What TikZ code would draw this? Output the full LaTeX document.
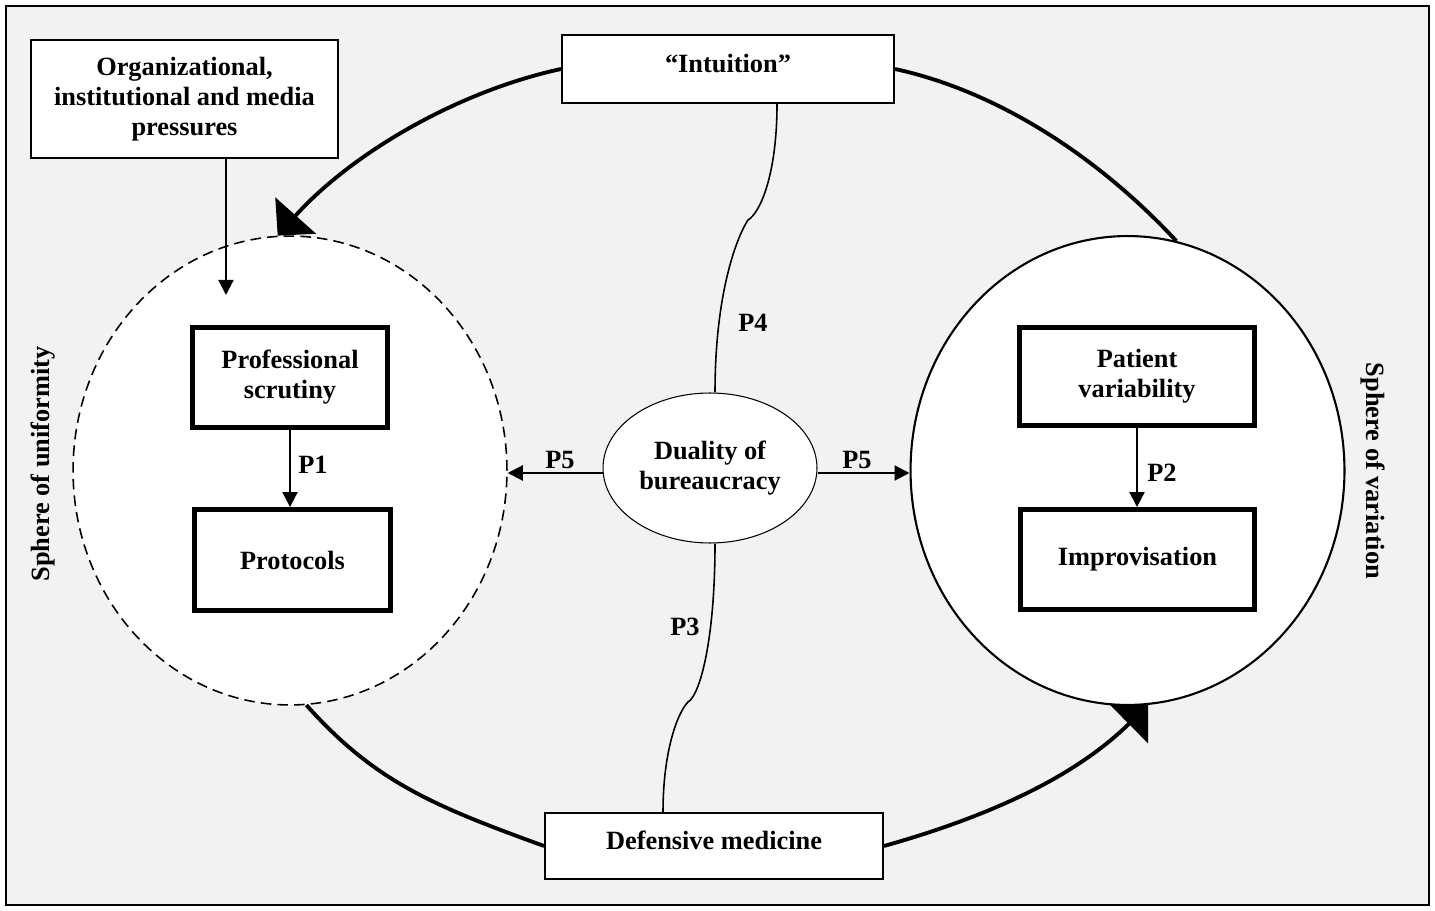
\documentclass[tikz,border=0pt]{standalone}
\usepackage{fontspec}
\setmainfont{Liberation Serif}
\usetikzlibrary{arrows.meta,positioning,shapes.geometric,calc}
\definecolor{paper}{RGB}{242,242,242}
\definecolor{ink}{RGB}{0,0,0}
\tikzset{
  >={Triangle[length=3mm,width=3mm]},
  txt/.style={font=\fontsize{15}{17}\selectfont\bfseries,align=center,text=ink},
  box/.style={txt,draw=ink,fill=white,line width=1.2pt,inner sep=0pt},
  heavy box/.style={box,line width=2.8pt},
  topbox/.style={text height=10.5pt,text depth=7pt},
  sphere/.style={ellipse,draw=ink,fill=white,inner sep=0pt,
    minimum width=8.68cm,minimum height=9.38cm},
  bigarc/.style={draw=ink,line width=2.2pt},
  bigarc tip/.style={bigarc,-{Triangle[length=5.4mm,width=10.8mm]}},
  flow/.style={->,draw=ink,line width=1.2pt},
  link/.style={draw=ink,line width=0.9pt},
  tag/.style={txt},
}

\begin{document}
\begin{tikzpicture}[x=0.02cm,y=-0.02cm]
  \useasboundingbox (0,0) rectangle (1435,911);
  \draw[ink,fill=paper,line width=1.1pt] (6,6) rectangle (1429,905);
  % the two spheres
  \node[sphere,dashed,dash pattern=on 6pt off 3.5pt,line width=0.9pt] (unif) at (290,470.5) {};
  \node[sphere,line width=1.2pt] (vari) at (1127.5,470.5) {};
  \node[tag,rotate=90] (unif label) at (43,464) {Sphere of uniformity};
  \node[tag,rotate=-90] (vari label) at (1373,471) {Sphere of variation};
  % boxes
  \node[box,minimum width=6.14cm,minimum height=2.36cm] (org) at (184.5,99)
    {Organizational,\\institutional and media\\pressures};
  \node[box,topbox,minimum width=6.64cm,minimum height=1.36cm] (intu) at (728,69) {``Intuition''};
  \node[box,topbox,minimum width=6.76cm,minimum height=1.32cm] (def) at (714,846) {Defensive medicine};
  \node[heavy box,minimum width=3.9cm,minimum height=2.0cm] (ps) at (290,377.5) {Professional\\scrutiny};
  \node[heavy box,minimum width=3.92cm,minimum height=2.02cm] (prot) at (292.5,560) {Protocols};
  \node[heavy box,minimum width=4.7cm,minimum height=1.96cm] (pv) at (1137,376.5) {Patient\\variability};
  \node[heavy box,minimum width=4.68cm,minimum height=2.0cm] (imp) at (1137.5,559.5) {Improvisation};
  \node[ellipse,draw=ink,fill=white,line width=0.6pt,inner sep=0pt,txt,
    minimum width=4.28cm,minimum height=3cm] (dual) at (710,468) {Duality of\\bureaucracy};
  % the outer cycle
  \draw[bigarc tip] (intu.west) .. controls (451,93) and (347,158) .. (unif.93);
  \draw[bigarc] (intu.east) .. controls (1005,93) and (1105,164) .. (vari.78);
  \draw[bigarc] (unif.-86) .. controls (375,782) and (434,806) .. (def.west);
  \draw[bigarc tip] (def.east) .. controls (994,815) and (1077,775) .. (vari.-85);
  % arrows
  \coordinate (press) at (226,295);
  \draw[flow] (org.south -| press) -- (press);
  \draw[flow] (ps.south) -- (ps.south |- prot.north);
  \draw[flow] (pv.south) -- (pv.south |- imp.north);
  \coordinate (dw) at ($(dual.west)+(0,5)$);
  \coordinate (de) at ($(dual.east)+(0,5)$);
  \draw[flow] (dw) -- (dw -| unif.east);
  \draw[flow] (de) -- (de -| vari.west);
  % wavy links
  \draw[link] ($(intu.south)+(49,0)$) .. controls (777,175) and (760,213) .. (748,220)
    .. controls (738,235) and (715,290) .. ($(dual.north)+(5,0)$);
  \draw[link] ($(dual.south)+(5,0)$) .. controls (715,640) and (700,695) .. (688,702)
    .. controls (678,712) and (663,750) .. ($(def.north)+(-51,0)$);
  \foreach \n/\x/\y in {1/313/465,2/1162/473,3/685/627,4/753/323}
    \node[tag] (p\n) at (\x,\y) {P\n};
  \node[tag] (p5l) at (560,460) {P5};
  \node[tag] (p5r) at (857,460) {P5};
\end{tikzpicture}
\end{document}
